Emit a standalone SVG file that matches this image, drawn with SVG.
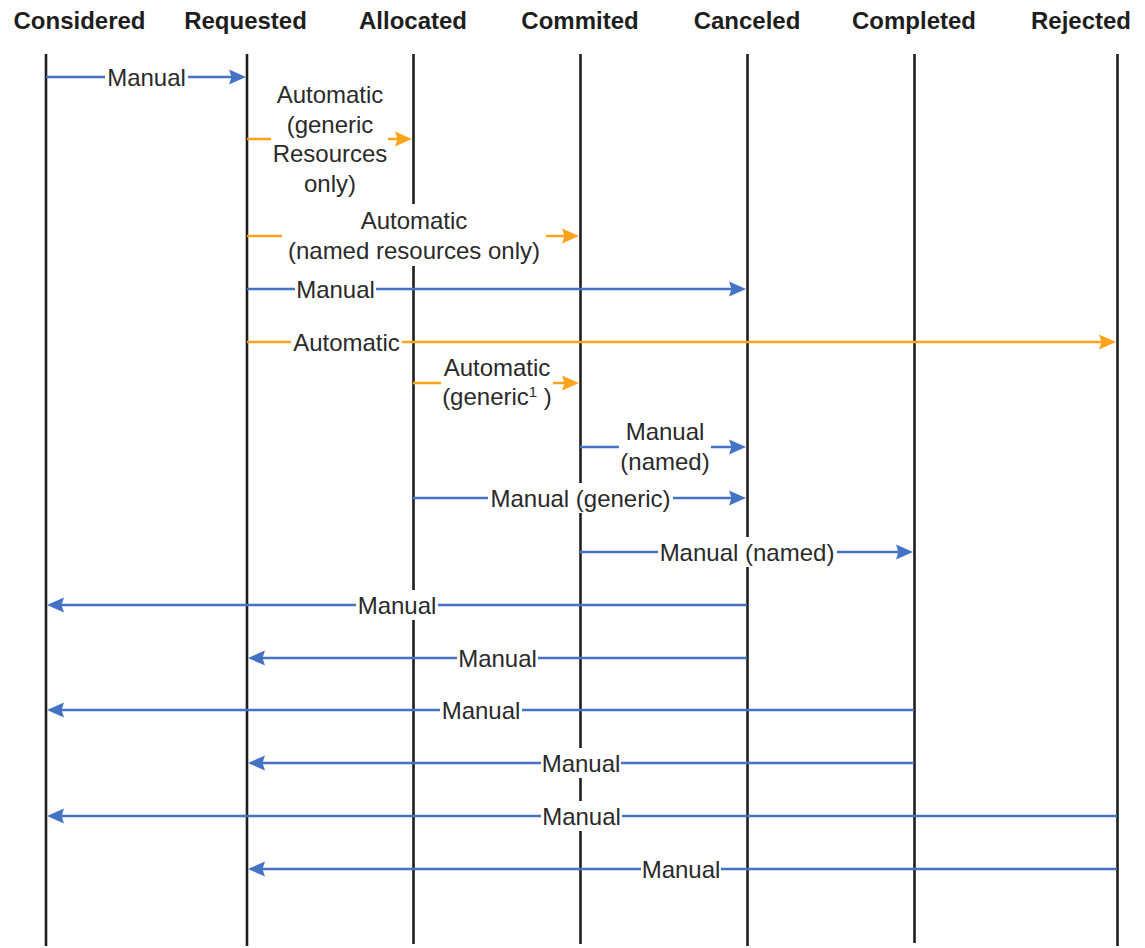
<svg xmlns="http://www.w3.org/2000/svg" width="1145" height="948" viewBox="0 0 1145 948">
<style>
.hdr{font-family:"Liberation Sans",Arial,sans-serif;font-weight:bold;font-size:24px;fill:#1e1e1e;text-anchor:middle}
.life{stroke:#1e1e1e;stroke-width:2.6;fill:none}
.lbl{font-family:"Liberation Sans",Arial,sans-serif;font-size:24px;fill:#2a2a2a;text-anchor:middle}
.bg{fill:#ffffff}
.blue{stroke:#4472c4;stroke-width:2.3;fill:none;marker-end:url(#ab)}
.orange{stroke:#ffa31a;stroke-width:2.3;fill:none;marker-end:url(#ao)}
</style>
<defs>
<marker id="ab" markerUnits="userSpaceOnUse" viewBox="0 -9 18 18" refX="7" refY="0" markerWidth="18" markerHeight="18" orient="auto">
<path d="M0,-7.5 L17,0 L0,7.5 L2.5,0 z" fill="#4472c4"/>
</marker>
<marker id="ao" markerUnits="userSpaceOnUse" viewBox="0 -9 18 18" refX="7" refY="0" markerWidth="18" markerHeight="18" orient="auto">
<path d="M0,-7.5 L17,0 L0,7.5 L2.5,0 z" fill="#ffa31a"/>
</marker>
</defs>
<rect width="1145" height="948" fill="#ffffff"/>
<g id="lifelines">
<g id="considered"><text class="hdr" x="79.5" y="29">Considered</text><line class="life" x1="46" y1="54" x2="46" y2="946"/></g>
<g id="requested"><text class="hdr" x="245.5" y="29">Requested</text><line class="life" x1="247" y1="54" x2="247" y2="946"/></g>
<g id="allocated"><text class="hdr" x="413" y="29">Allocated</text><line class="life" x1="413.5" y1="54" x2="413.5" y2="944"/></g>
<g id="commited"><text class="hdr" x="580" y="29">Commited</text><line class="life" x1="580.5" y1="54" x2="580.5" y2="944"/></g>
<g id="canceled"><text class="hdr" x="747" y="29">Canceled</text><line class="life" x1="747.5" y1="54" x2="747.5" y2="946"/></g>
<g id="completed"><text class="hdr" x="914" y="29">Completed</text><line class="life" x1="914.5" y1="54" x2="914.5" y2="943"/></g>
<g id="rejected"><text class="hdr" x="1081" y="29">Rejected</text><line class="life" x1="1117.5" y1="54" x2="1117.5" y2="946"/></g>
</g>
<g id="connectors">
<g id="c1"><line class="blue" x1="46" y1="77" x2="236" y2="77"/><rect class="bg" x="105" y="62" width="83" height="30"/><text class="lbl" x="146.5" y="85.5">Manual</text></g>
<g id="c2"><line class="orange" x1="247" y1="139" x2="402" y2="139"/><rect class="bg" x="271" y="80" width="117" height="118"/>
<text class="lbl" x="330" y="103">Automatic</text><text class="lbl" x="330" y="132.5">(generic</text><text class="lbl" x="330" y="162">Resources</text><text class="lbl" x="330" y="191.5">only)</text></g>
<g id="c3"><line class="orange" x1="247" y1="236" x2="569" y2="236"/><rect class="bg" x="282" y="204" width="264" height="62"/>
<text class="lbl" x="414" y="229">Automatic</text><text class="lbl" x="414" y="259">(named resources only)</text></g>
<g id="c4"><line class="blue" x1="247" y1="289" x2="736" y2="289"/><rect class="bg" x="295" y="274" width="81" height="30"/><text class="lbl" x="335.5" y="297.5">Manual</text></g>
<g id="c5"><line class="orange" x1="247" y1="342" x2="1106" y2="342"/><rect class="bg" x="291" y="327" width="111" height="30"/><text class="lbl" x="346.5" y="350.5">Automatic</text></g>
<g id="c6"><line class="orange" x1="413" y1="383" x2="569" y2="383"/><rect class="bg" x="441" y="353" width="112" height="60"/>
<text class="lbl" x="497" y="376">Automatic</text><text class="lbl" x="497" y="405">(generic<tspan font-size="15" dy="-8">1</tspan><tspan dy="8"> )</tspan></text></g>
<g id="c7"><line class="blue" x1="580" y1="447" x2="736" y2="447"/><rect class="bg" x="619" y="417" width="92" height="60"/>
<text class="lbl" x="665" y="440">Manual</text><text class="lbl" x="665" y="470">(named)</text></g>
<g id="c8"><line class="blue" x1="413" y1="498" x2="736" y2="498"/><rect class="bg" x="488" y="483" width="185" height="30"/><text class="lbl" x="580.5" y="506.5">Manual (generic)</text></g>
<g id="c9"><line class="blue" x1="580" y1="552" x2="903" y2="552"/><rect class="bg" x="658" y="537" width="179" height="30"/><text class="lbl" x="747" y="560.5">Manual (named)</text></g>
<g id="c10"><line class="blue" x1="747" y1="605" x2="57" y2="605"/><rect class="bg" x="356" y="590" width="82" height="30"/><text class="lbl" x="397" y="613.5">Manual</text></g>
<g id="c11"><line class="blue" x1="747" y1="658" x2="258" y2="658"/><rect class="bg" x="457" y="643" width="81" height="30"/><text class="lbl" x="497.5" y="666.5">Manual</text></g>
<g id="c12"><line class="blue" x1="914" y1="710" x2="57" y2="710"/><rect class="bg" x="440" y="695" width="82" height="30"/><text class="lbl" x="481" y="718.5">Manual</text></g>
<g id="c13"><line class="blue" x1="914" y1="763" x2="258" y2="763"/><rect class="bg" x="541" y="748" width="80" height="30"/><text class="lbl" x="581" y="771.5">Manual</text></g>
<g id="c14"><line class="blue" x1="1117" y1="816" x2="57" y2="816"/><rect class="bg" x="541" y="801" width="81" height="30"/><text class="lbl" x="581.5" y="824.5">Manual</text></g>
<g id="c15"><line class="blue" x1="1117" y1="869" x2="258" y2="869"/><rect class="bg" x="641" y="854" width="80" height="30"/><text class="lbl" x="681" y="877.5">Manual</text></g>
</g>
</svg>
